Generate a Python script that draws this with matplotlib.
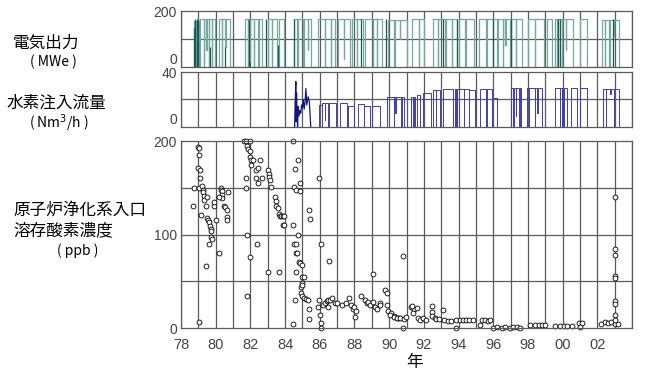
import matplotlib
matplotlib.use("Agg")
import matplotlib.pyplot as plt

plt.rcParams['font.family'] = ['Noto Sans CJK JP', 'DejaVu Sans']

# x axis: 78 = 1978 ... 100 = 2000
x_min, x_max = 78, 104
year_pos = [78, 80, 82, 84, 86, 88, 90, 92, 94, 96, 98, 100, 102]
year_labels = ["78", "80", "82", "84", "86", "88", "90", "92", "94", "96", "98", "00", "02"]

# 電気出力 (MWe): operating periods
power_start = [78.72, 79.08, 80.20, 81.70, 83.00, 83.65, 84.50, 85.92, 87.06, 87.83,
               88.60, 89.08, 89.95, 91.30, 92.50, 93.30, 94.00, 95.20, 96.30, 97.05,
               97.98, 99.10, 99.55, 101.00, 102.25]
power_end = [79.05, 79.95, 80.80, 82.65, 83.55, 83.95, 85.50, 86.87, 87.73, 88.50,
             89.05, 89.56, 91.00, 92.00, 93.20, 93.90, 94.90, 96.20, 96.95, 97.65,
             98.90, 99.36, 100.61, 101.40, 103.27]
power_level = [165, 172, 172, 172, 172, 172, 172, 172, 172, 172,
               172, 172, 168, 170, 172, 170, 172, 172, 170, 172,
               172, 172, 170, 172, 168]
power_dip_t = [78.85, 78.95, 79.30, 79.45, 79.62, 79.78, 80.35, 80.55, 81.85, 81.98,
               82.20, 82.45, 83.25, 84.70, 85.05, 85.30, 86.30, 86.62, 87.40, 88.15,
               89.30, 90.30, 90.60, 91.70, 92.80, 93.60, 94.40, 95.60, 96.55, 96.70,
               97.30, 98.40, 99.70, 99.95, 100.20, 102.45, 102.70, 102.95]
power_dip_v = [0, 40, 0, 60, 0, 0, 0, 70, 0, 20,
               0, 0, 0, 0, 0, 60, 0, 0, 30, 0,
               0, 0, 100, 0, 0, 0, 0, 0, 0, 80,
               0, 0, 0, 0, 60, 0, 0, 110]
power_dark_t = [78.75, 78.80, 78.90, 79.00, 79.65, 80.55, 81.92, 82.90, 83.57, 84.52,
                88.40, 89.80, 93.10, 93.92, 96.00, 97.00, 99.72, 99.85, 102.90]
power_dark_v = [140, 172, 172, 172, 70, 70, 172, 172, 80, 172,
                172, 172, 172, 172, 172, 172, 172, 172, 172]

# 水素注入流量 (Nm3/h)
h2_early_t = [84.55, 84.58, 84.62, 84.63, 84.66, 84.68, 84.72, 84.75, 84.80, 84.85,
              84.90, 84.95, 85.00, 85.05, 85.10, 85.15, 85.20, 85.25, 85.33, 85.40, 85.48]
h2_early_v = [0, 18, 33, 4, 25, 12, 0, 15, 8, 12,
              10, 16, 14, 20, 13, 18, 28, 16, 22, 18, 0]
h2_start = [85.95, 86.15, 87.15, 87.62, 88.20, 88.55, 89.00, 89.87, 91.25, 91.60,
            91.95, 92.50, 93.10, 93.80, 94.60, 95.25, 95.90, 97.00, 97.96, 99.55,
            100.46, 101.00, 102.30]
h2_end = [86.15, 86.92, 87.55, 88.00, 88.55, 88.90, 89.48, 90.83, 91.50, 91.80,
          92.40, 92.95, 93.70, 94.60, 94.96, 95.90, 96.20, 97.60, 98.80, 100.27,
          100.85, 101.40, 103.25]
h2_level = [16.0, 17.5, 17.5, 15.5, 16.4, 15.5, 15.2, 21.6, 21.6, 23.3,
            24.5, 27.0, 27.7, 27.7, 27.2, 27.7, 21.0, 28.0, 28.0, 28.0,
            28.0, 28.0, 27.8]
h2_dip_t = [86.30, 86.50, 87.60, 88.95, 90.25, 90.35, 90.70, 91.40, 92.70, 93.85,
            93.90, 94.30, 95.60, 97.15, 97.30, 97.50, 98.05, 98.40, 98.55, 99.85,
            99.95, 100.05, 102.50, 102.75, 102.95]
h2_dip_v = [5, 0, 22, 0, 0, 10, 0, 0, 0, 0,
            0, 0, 0, 0, 8, 0, 0, 0, 10, 0,
            0, 0, 0, 24, 0]

# 原子炉浄化系入口 溶存酸素濃度 (ppb)
do_year = [78.67, 78.77, 78.96, 79.02, 79.06, 78.96, 79.10, 79.10, 79.02, 79.21,
           79.25, 79.27, 79.30, 79.33, 79.06, 79.15, 79.44, 79.48, 79.44, 79.50,
           79.55, 79.60, 79.65, 79.70, 79.70, 79.75, 79.80, 79.63, 79.92, 79.92,
           80.00, 80.20, 80.30, 80.32, 80.34, 80.38, 80.38, 80.20, 80.50, 80.55,
           80.63, 80.67, 80.67, 80.73, 81.65, 81.75, 81.97, 81.80, 81.85, 81.75,
           81.75, 81.80, 81.80, 81.95, 81.95, 82.05, 82.05, 82.15, 82.35, 82.45,
           82.35, 82.45, 82.65, 82.55, 82.00, 82.40, 83.00, 83.63, 83.00, 83.05,
           83.10, 83.15, 83.20, 83.40, 83.45, 83.50, 83.60, 83.65, 83.72, 83.78,
           83.87, 83.95, 83.87, 83.95, 84.47, 84.44, 84.53, 84.57, 84.72, 84.63,
           84.86, 84.86, 84.50, 84.60, 84.60, 84.70, 84.72, 84.63, 84.80, 84.85,
           84.95, 85.00, 85.10, 85.00, 84.90, 85.00, 84.90, 85.00, 85.10, 85.20,
           84.57, 84.44, 85.30, 85.40, 85.45, 85.36, 85.36, 85.93, 86.07, 86.55,
           85.93, 85.87, 86.00, 86.07, 86.07, 86.20, 86.30, 86.40, 86.50, 86.60,
           86.70, 86.90, 87.00, 86.45, 87.30, 87.50, 87.70, 87.80, 87.90, 88.00,
           88.10, 88.05, 88.40, 88.60, 88.70, 88.80, 88.90, 89.05, 89.20, 89.30,
           89.45, 89.50, 89.05, 89.78, 89.88, 89.88, 89.92, 90.08, 90.27, 90.46,
           90.56, 90.79, 90.05, 90.25, 90.45, 90.65, 90.85, 90.95, 90.80, 91.27,
           91.45, 91.37, 91.65, 91.75, 91.95, 92.15, 91.30, 91.58, 92.48, 92.48,
           92.48, 92.62, 92.72, 92.90, 93.13, 93.17, 93.37, 93.56, 93.87, 94.06,
           94.25, 94.44, 94.63, 94.83, 93.87, 95.23, 95.33, 95.52, 95.71, 95.81,
           96.00, 96.19, 96.48, 96.67, 96.96, 97.15, 97.35, 97.54, 98.13, 98.42,
           98.62, 98.81, 99.00, 99.58, 99.87, 100.06, 100.25, 100.54, 100.92, 101.12,
           101.02, 102.23, 102.42, 102.62, 102.81, 103.00, 103.20, 103.00, 103.00, 103.00,
           103.00, 103.00, 103.00, 103.00, 103.00, 103.00]
do_ppb = [130, 150, 194, 193, 185, 171, 169, 160, 150, 152,
          148, 145, 141, 137, 6, 121, 130, 140, 66, 118,
          116, 113, 109, 106, 104, 97, 95, 90, 130, 135,
          115, 80, 150, 148, 146, 142, 139, 140, 131, 129,
          126, 119, 116, 145, 200, 200, 200, 195, 191, 150,
          160, 100, 34, 189, 183, 180, 174, 180, 169, 171,
          160, 155, 160, 180, 76, 90, 60, 60, 169, 165,
          162, 158, 151, 140, 136, 130, 128, 122, 120, 120,
          120, 120, 110, 110, 200, 110, 151, 170, 180, 148,
          155, 146, 90, 90, 80, 80, 100, 60, 71, 69,
          67, 55, 55, 48, 44, 46, 37, 34, 32, 31,
          30, 4, 30, 126, 117, 20, 10, 160, 90, 72,
          30, 23, 14, 5, 0, 25, 27, 29, 30, 30,
          32, 27, 27, 22, 25, 27, 32, 25, 20, 23,
          18, 12, 34, 30, 27, 28, 25, 28, 23, 20,
          27, 25, 58, 41, 37, 25, 18, 16, 12.5, 10.7,
          10.7, 77, 14, 12, 11, 11, 10, 12, 0, 23,
          20, 16, 11, 9, 11, 9, 24, 21, 23.5, 17,
          13, 11, 10, 10, 19, 9, 8, 7, 8.5, 9,
          9, 8.5, 8.5, 8.5, 0, 3, 8.5, 8.5, 7, 8.5,
          0, 1.5, 0, 1, 0, 1.5, 1, 0, 3, 3,
          3, 3, 3, 2, 2, 2.5, 2.5, 2.5, 5.7, 5.7,
          1.4, 4.5, 6, 5.5, 6, 4.5, 4, 140, 84, 78,
          56, 54, 29, 26, 14, 8.5]


def step_path(starts, ends, levels, dip_t, dip_v):
    xs, ys = [], []
    for s, e, lv in zip(starts, ends, levels):
        xs += [s, s]
        ys += [0, lv]
        for d, dv in zip(dip_t, dip_v):
            if s < d < e:
                xs += [d, d, d + 0.02, d + 0.02]
                ys += [lv, dv, dv, lv]
        xs += [e, e]
        ys += [lv, 0]
    return xs, ys


grid_c = "#5a5a5a"
tick_c = "#444444"

fig = plt.figure(figsize=(6.5, 3.84), dpi=100)
ax1 = fig.add_axes([0.2785, 0.8255, 0.6938, 0.1458])
ax2 = fig.add_axes([0.2785, 0.6693, 0.6938, 0.1432])
ax3 = fig.add_axes([0.2785, 0.1458, 0.6938, 0.4870])


def style(ax, ymax, yticks, ygrid):
    ax.set_xlim(x_min, x_max)
    ax.set_ylim(0, ymax)
    ax.xaxis.remove_overlapping_locs = False
    ax.yaxis.remove_overlapping_locs = False
    ax.set_xticks(range(x_min, x_max + 1), minor=True)
    ax.set_xticks([])
    ax.set_yticks(yticks)
    ax.set_yticks(ygrid, minor=True)
    ax.grid(True, which="minor", color=grid_c, lw=0.9)
    ax.tick_params(which="both", length=0, labelsize=10, labelcolor=tick_c, pad=3)
    for lab in ax.get_yticklabels():
        lab.set_family(["Liberation Sans", "DejaVu Sans"])
    for sp in ax.spines.values():
        sp.set_color(grid_c)
        sp.set_linewidth(0.9)
    ax.set_axisbelow(True)


style(ax1, 200, [0, 200], [100])
style(ax2, 40, [0, 40], [20])
style(ax3, 200, [0, 100, 200], [50, 100, 150])

# small panels: the "0" label sits above the bottom edge
for ax in (ax1, ax2):
    ax.get_yticklabels()[0].set_va("bottom")

# 電気出力
px, py = step_path(power_start, power_end, power_level, power_dip_t, power_dip_v)
ax1.plot(px, py, color="#74a8a2", lw=0.9)
ax1.vlines(power_dark_t, 0, power_dark_v, color="#1c5a54", lw=0.9)

# 水素注入流量
hx, hy = step_path(h2_start, h2_end, h2_level, h2_dip_t, h2_dip_v)
ax2.plot(h2_early_t, h2_early_v, color="#141480", lw=0.9)
ax2.plot(hx, hy, color="#4040b0", lw=0.7)

# 溶存酸素濃度
ax3.plot(do_year, do_ppb, ls="none", marker="o", ms=3.5, mfc="white",
         mec="black", mew=0.6, clip_on=False)

ax3.set_xticks(year_pos)
ax3.set_xticklabels(year_labels, family=["Liberation Sans", "DejaVu Sans"])
ax3.tick_params(axis="x", which="major", length=0, pad=7, labelsize=10.5)

# 軸ラベル
fig.text(13 / 650, 1 - 43 / 384, "電気出力", fontsize=12, ha="left", va="center")
fig.text(53 / 650, 1 - 62 / 384, "( MWe )", fontsize=10, ha="center", va="center")
fig.text(7 / 650, 1 - 103 / 384, "水素注入流量", fontsize=12, ha="left", va="center")
fig.text(59 / 650, 1 - 123 / 384, "( Nm$^3$/h )", fontsize=10, ha="center", va="center")
fig.text(13 / 650, 1 - 210 / 384, "原子炉浄化系入口", fontsize=12, ha="left", va="center")
fig.text(13 / 650, 1 - 231 / 384, "溶存酸素濃度", fontsize=12, ha="left", va="center")
fig.text(78 / 650, 1 - 251 / 384, "( ppb )", fontsize=10, ha="center", va="center")
fig.text(415 / 650, 1 - 362 / 384, "年", fontsize=12, ha="center", va="center")

fig.savefig("out.png", dpi=100)
